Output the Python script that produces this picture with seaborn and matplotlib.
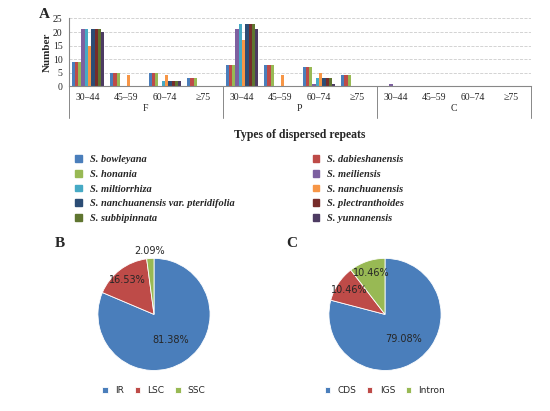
import numpy as np
import pandas as pd
import seaborn as sns
import matplotlib.pyplot as plt

species = ['S. bowleyana', 'S. dabieshanensis', 'S. honania', 'S. meiliensis',
           'S. miltiorrhiza', 'S. nanchuanensis', 'S. nanchuanensis var. pteridifolia',
           'S. plectranthoides', 'S. subbipinnata', 'S. yunnanensis']
colors = ['#4a7ebb', '#be4b48', '#98b954', '#7d60a0', '#46aac5', '#f79646',
          '#2c4d75', '#772c2a', '#5f7530', '#4d3b62']
types = ['F', 'P', 'C']
lengths = ['30–44', '45–59', '60–74', '≥75']
# counts[length] -> per species, one block per repeat type
F = [[9, 9, 9, 21, 21, 15, 21, 21, 21, 20],
     [5, 5, 5, 0, 0, 4, 0, 0, 0, 0],
     [5, 5, 5, 0, 2, 4, 2, 2, 2, 2],
     [3, 3, 3, 0, 0, 0, 0, 0, 0, 0]]
P = [[8, 8, 8, 21, 23, 17, 23, 23, 23, 21],
     [8, 8, 8, 0, 0, 4, 0, 0, 0, 0],
     [7, 7, 7, 1, 3, 5, 3, 3, 3, 1],
     [4, 4, 4, 0, 0, 0, 0, 0, 0, 0]]
C = [[0, 0, 0, 1, 0, 0, 0, 0, 0, 0],
     [0] * 10, [0] * 10, [0] * 10]

regions_b = ['IR', 'LSC', 'SSC']
pct_b = [81.38, 16.53, 2.09]
regions_c = ['CDS', 'IGS', 'Intron']
pct_c = [79.08, 10.46, 10.46]

rows = []
for t, block in zip(types, [F, P, C]):
    for l, vals in zip(lengths, block):
        for s, v in zip(species, vals):
            rows.append({'group': t + l, 'species': s, 'count': v})
df = pd.DataFrame(rows)

sns.set_style('white')
plt.rcParams['font.family'] = ['Liberation Serif', 'DejaVu Serif']

fig = plt.figure(figsize=(5.5, 4.11), dpi=100)
ax = fig.add_axes([0.125, 0.79, 0.84, 0.165])
sns.barplot(data=df, x='group', y='count', hue='species', palette=colors,
            ax=ax, width=0.85, legend=False, saturation=1, linewidth=0)
ax.set_ylim(0, 25)
ax.set_yticks(range(0, 26, 5))
ax.tick_params(axis='y', labelsize=7, pad=1)
ax.tick_params(axis='x', length=0, pad=5)
ax.yaxis.grid(True, ls='--', color='#cccccc', lw=0.6)
ax.set_axisbelow(True)
for s in ['top', 'right']:
    ax.spines[s].set_visible(False)
ax.spines['left'].set_color('#888888')
ax.spines['bottom'].set_color('#888888')
ax.set_xticks(range(12))
ax.set_xticklabels(lengths * 3, fontsize=7)
ax.set_xlim(-0.5, 11.5)
ax.set_xlabel('')
ax.set_ylabel('Number', fontsize=8, fontweight='bold', labelpad=1)
for i in [-0.5, 3.5, 7.5, 11.5]:
    ax.plot([i, i], [0, -0.47], transform=ax.get_xaxis_transform(),
            color='#888888', lw=0.7, clip_on=False)
for k, t in enumerate(types):
    ax.text(4 * k + 1.5, -0.33, t, transform=ax.get_xaxis_transform(),
            ha='center', va='center', fontsize=7)
ax.text(0.5, -0.72, 'Types of dispersed repeats', transform=ax.transAxes,
        ha='center', va='center', fontsize=8.5, fontweight='bold')
fig.text(0.07, 0.955, 'A', fontsize=11, fontweight='bold')

handles = [plt.Rectangle((0, 0), 1, 1, color=c) for c in colors]
order = [0, 2, 4, 6, 8, 1, 3, 5, 7, 9]
fig.legend([handles[i] for i in order], [species[i] for i in order],
           loc='upper left', bbox_to_anchor=(0.12, 0.645), ncol=2,
           frameon=False, handlelength=0.6, handleheight=0.6,
           columnspacing=7.5, labelspacing=0.55,
           prop={'size': 7.5, 'weight': 'bold', 'style': 'italic'})

pie_colors = ['#4a7ebb', '#be4b48', '#98b954']
for rect, vals, labs, tag, tx in [([0.13, 0.08, 0.3, 0.31], pct_b, regions_b, 'B', 0.1),
                                  ([0.55, 0.08, 0.3, 0.31], pct_c, regions_c, 'C', 0.52)]:
    pa = fig.add_axes(rect)
    wedges, texts = pa.pie(vals, colors=pie_colors, startangle=90, counterclock=False,
                           radius=1.1, wedgeprops={'edgecolor': 'white', 'linewidth': 0.6})
    for w, v in zip(wedges, vals):
        ang = np.deg2rad((w.theta1 + w.theta2) / 2)
        r = 0.6 if v > 50 else (0.85 if v > 5 else 1.25)
        pa.text(r * np.cos(ang), r * np.sin(ang), f'{v:.2f}%', ha='center',
                va='center', fontsize=7, family='DejaVu Sans')
    pa.legend(wedges, labs, loc='upper center', bbox_to_anchor=(0.5, 0.0),
              ncol=3, frameon=False, handlelength=0.6, handleheight=0.6,
              columnspacing=1.2, prop={'size': 6.5, 'family': 'DejaVu Sans'})
    fig.text(tx, 0.4, tag, fontsize=11, fontweight='bold')

fig.savefig('out.png', dpi=100)
